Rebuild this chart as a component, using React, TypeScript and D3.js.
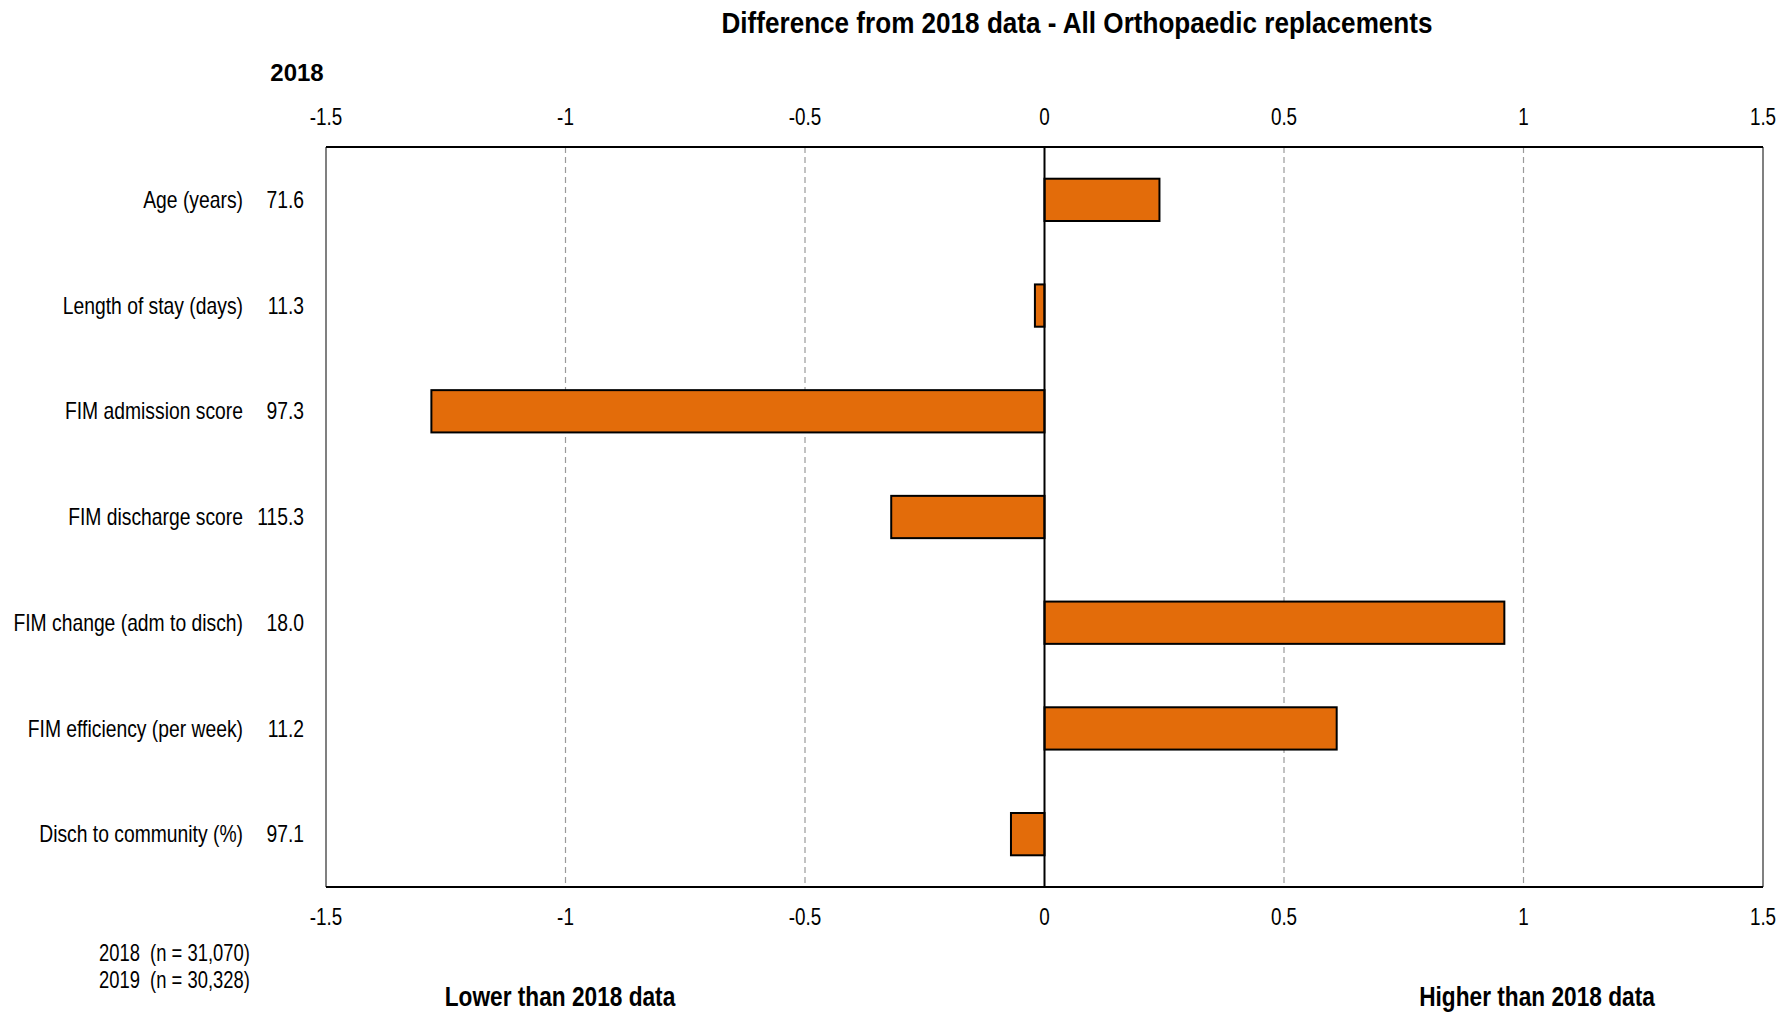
import React from "react";
import * as d3 from "d3";

const categories = [
  "Age (years)",
  "Length of stay (days)",
  "FIM admission score",
  "FIM discharge score",
  "FIM change (adm to disch)",
  "FIM efficiency (per week)",
  "Disch to community (%)",
];
const baseValues = ["71.6", "11.3", "97.3", "115.3", "18.0", "11.2", "97.1"];
const differences = [0.24, -0.02, -1.28, -0.32, 0.96, 0.61, -0.07];
const ticks = [-1.5, -1, -0.5, 0, 0.5, 1, 1.5];
const gridTicks = [-1, -0.5, 0.5, 1];
const footerLines = ["2018  (n = 31,070)", "2019  (n = 30,328)"];

const W = 1785;
const H = 1016;
const M = { left: 326, right: 1763, top: 147, bottom: 887 };
const FONT = "'Liberation Sans', Arial, sans-serif";
const ORANGE = "#E36C0A";

type NTProps = {
  x: number;
  y: number;
  sx?: number;
  size: number;
  anchor?: "start" | "middle" | "end";
  bold?: boolean;
  children: React.ReactNode;
};

function NText({ x, y, sx = 0.84, size, anchor = "start", bold = false, children }: NTProps) {
  return (
    <text
      transform={`translate(${x},${y}) scale(${sx},1)`}
      x={0}
      y={0}
      textAnchor={anchor}
      dominantBaseline="central"
      fontSize={size}
      fontWeight={bold ? "bold" : "normal"}
      fill="#000"
      style={{ whiteSpace: "pre" }}
    >
      {children}
    </text>
  );
}

export default function App() {
  const x = d3.scaleLinear().domain([-1.5, 1.5]).range([M.left, M.right]);
  const y = d3.scaleBand<string>().domain(categories).range([M.top, M.bottom]).paddingInner(0.6).paddingOuter(0.3);
  const yc = (c: string) => (y(c) as number) + y.bandwidth() / 2;

  return (
    <svg width={W} height={H} style={{ position: "absolute", left: 0, top: 0, background: "#fff" }} fontFamily={FONT}>
      <rect x={0} y={0} width={W} height={H} fill="#fff" />
      <NText x={1077} y={23} anchor="middle" bold size={29} sx={0.9}>
        Difference from 2018 data - All Orthopaedic replacements
      </NText>
      <NText x={297} y={72} anchor="middle" bold size={24} sx={1}>
        2018
      </NText>

      {gridTicks.map((t) => (
        <line key={t} x1={x(t)} x2={x(t)} y1={M.top} y2={M.bottom} stroke="#9a9a9a" strokeWidth={1.2} strokeDasharray="6,4" />
      ))}

      {/* frame */}
      <line x1={M.left} x2={M.left} y1={M.top} y2={M.bottom} stroke="#808080" strokeWidth={2} />
      <line x1={M.right} x2={M.right} y1={M.top} y2={M.bottom} stroke="#808080" strokeWidth={2} />
      <line x1={M.left} x2={M.right} y1={M.top} y2={M.top} stroke="#000" strokeWidth={2} />
      <line x1={M.left} x2={M.right} y1={M.bottom} y2={M.bottom} stroke="#000" strokeWidth={2} />

      {categories.map((c, i) => {
        const v = differences[i];
        const x0 = x(Math.min(0, v));
        const x1 = x(Math.max(0, v));
        return (
          <rect key={c} x={x0} y={y(c)} width={x1 - x0} height={y.bandwidth()} fill={ORANGE} stroke="#000" strokeWidth={2} />
        );
      })}

      <line x1={x(0)} x2={x(0)} y1={M.top} y2={M.bottom} stroke="#000" strokeWidth={2} />

      {ticks.map((t) => (
        <g key={t}>
          <NText x={x(t)} y={117} anchor="middle" size={23} sx={0.82}>
            {String(t)}
          </NText>
          <NText x={x(t)} y={917} anchor="middle" size={23} sx={0.82}>
            {String(t)}
          </NText>
        </g>
      ))}

      {categories.map((c, i) => (
        <g key={c}>
          <NText x={243} y={yc(c)} anchor="end" size={23} sx={0.84}>
            {c}
          </NText>
          <NText x={304} y={yc(c)} anchor="end" size={23} sx={0.84}>
            {baseValues[i]}
          </NText>
        </g>
      ))}

      {footerLines.map((f, i) => (
        <NText key={f} x={99} y={953 + i * 27} size={23} sx={0.8}>
          {f}
        </NText>
      ))}

      <NText x={560} y={996} anchor="middle" bold size={27} sx={0.84}>
        Lower than 2018 data
      </NText>
      <NText x={1537} y={996} anchor="middle" bold size={27} sx={0.84}>
        Higher than 2018 data
      </NText>
    </svg>
  );
}
